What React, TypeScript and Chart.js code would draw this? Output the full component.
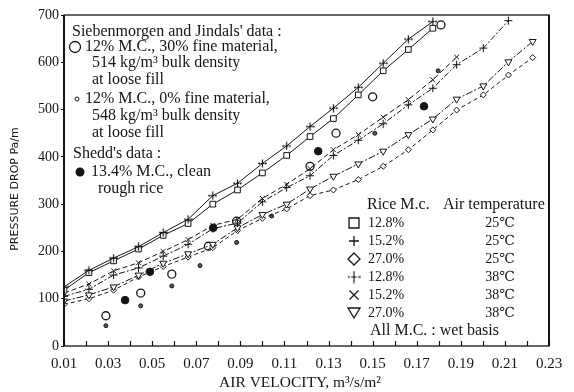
import React, { useEffect, useRef } from "react";
import { Chart, registerables } from "chart.js";

Chart.register(...registerables);

// ---------- data (air velocity m3/s/m2, pressure drop Pa/m) ----------
const VEL_A = [0.01, 0.0213, 0.0325, 0.0438, 0.055, 0.0663, 0.0775, 0.0887, 0.1, 0.111, 0.1216, 0.1322, 0.1435, 0.1548, 0.1662, 0.1773];
const VEL_B = [...VEL_A, 0.1881];
const VEL_C = [...VEL_B, 0.2002, 0.2116];
const VEL_D = [...VEL_C, 0.2226];

const MC128_T38 = [125, 160, 186, 210, 240, 268, 318, 344, 386, 423, 464, 503, 547, 598, 649, 686];
const MC128_T25 = [118, 155, 180, 205, 234, 259, 300, 330, 366, 403, 443, 481, 531, 582, 627, 672];
const MC152_T38 = [112, 131, 159, 176, 200, 225, 255, 268, 312, 342, 375, 415, 447, 484, 521, 563, 611];
const MC152_T25 = [105, 120, 150, 165, 190, 215, 248, 260, 305, 335, 360, 403, 435, 470, 510, 545, 595, 630, 688];
const MC270_T38 = [95, 108, 125, 150, 175, 195, 215, 250, 278, 300, 332, 359, 385, 412, 447, 480, 522, 550, 601, 644];
const MC270_T25 = [88, 100, 118, 146, 168, 188, 208, 244, 270, 290, 318, 330, 352, 380, 415, 457, 499, 531, 573, 610];

const SIEB30_VEL = [0.029, 0.0448, 0.0589, 0.0755, 0.0883, 0.1216, 0.1334, 0.150, 0.181];
const SIEB30_DP = [64, 112, 152, 211, 264, 380, 450, 527, 679];
const SIEB0_VEL = [0.029, 0.0448, 0.0589, 0.0717, 0.0883, 0.1042, 0.151, 0.1797];
const SIEB0_DP = [43, 85, 127, 170, 219, 275, 450, 582];
const SHEDD_VEL = [0.0377, 0.049, 0.0777, 0.1253, 0.1733];
const SHEDD_DP = [97, 157, 250, 412, 507];

const X_TICKS_LABELLED = ["0.01", "0.03", "0.05", "0.07", "0.09", "0.11", "0.13", "0.15", "0.17", "0.19", "0.21", "0.23"];

const LEGEND_MC = ["12.8%", "15.2%", "27.0%", "12.8%", "15.2%", "27.0%"];
const LEGEND_T = ["25℃", "25℃", "25℃", "38℃", "38℃", "38℃"];

const SERIF = "'Liberation Serif', 'DejaVu Serif', serif";
const INK = "#151515";

const pts = (xs: number[], ys: number[]) => xs.map((x, i) => ({ x, y: ys[i] }));

function makeDotCross(size: number): HTMLCanvasElement {
  const c = document.createElement("canvas");
  c.width = size;
  c.height = size;
  const g = c.getContext("2d")!;
  const m = size / 2;
  g.strokeStyle = INK;
  g.fillStyle = INK;
  g.lineWidth = 1.2;
  g.beginPath();
  g.moveTo(m, 0.5);
  g.lineTo(m, size - 0.5);
  g.moveTo(m - size * 0.22, m);
  g.lineTo(m + size * 0.22, m);
  g.stroke();
  g.beginPath();
  g.arc(1.2, m, 1, 0, Math.PI * 2);
  g.arc(size - 1.2, m, 1, 0, Math.PI * 2);
  g.fill();
  return c;
}

function drawMarker(ctx: CanvasRenderingContext2D, kind: string, x: number, y: number, dotCross: HTMLCanvasElement) {
  ctx.save();
  ctx.strokeStyle = INK;
  ctx.lineWidth = 1.3;
  ctx.beginPath();
  if (kind === "square") {
    ctx.rect(x - 5, y - 5, 10, 10);
  } else if (kind === "plus") {
    ctx.moveTo(x - 5, y); ctx.lineTo(x + 5, y);
    ctx.moveTo(x, y - 5); ctx.lineTo(x, y + 5);
  } else if (kind === "diamond") {
    ctx.moveTo(x, y - 6); ctx.lineTo(x + 6, y); ctx.lineTo(x, y + 6); ctx.lineTo(x - 6, y); ctx.closePath();
  } else if (kind === "cross") {
    ctx.moveTo(x - 4.5, y - 4.5); ctx.lineTo(x + 4.5, y + 4.5);
    ctx.moveTo(x + 4.5, y - 4.5); ctx.lineTo(x - 4.5, y + 4.5);
  } else if (kind === "tri") {
    ctx.moveTo(x - 6, y - 5); ctx.lineTo(x + 6, y - 5); ctx.lineTo(x, y + 5); ctx.closePath();
  }
  ctx.stroke();
  if (kind === "dotcross") ctx.drawImage(dotCross, x - dotCross.width / 2, y - dotCross.height / 2);
  ctx.restore();
}

export default function App() {
  const ref = useRef<HTMLCanvasElement>(null);

  useEffect(() => {
    const canvas = ref.current!;
    const dotCross = makeDotCross(9);
    const dotCrossBig = makeDotCross(13);

    const lineDs = (label: string, data: { x: number; y: number }[], style: any, radius: number, dash: number[], rotation = 0) => ({
      label,
      data,
      showLine: true,
      borderColor: INK,
      borderWidth: 1,
      borderDash: dash,
      pointStyle: style,
      pointRadius: radius,
      pointRotation: rotation,
      pointBorderColor: INK,
      pointBackgroundColor: "#fff",
      pointBorderWidth: 1,
      fill: false,
      tension: 0,
    });

    const overlay = {
      id: "overlay",
      afterDraw(chart: any) {
        const { ctx, chartArea: a } = chart;
        const xs = chart.scales.x;
        ctx.save();
        // frame
        ctx.strokeStyle = INK;
        ctx.lineWidth = 1.3;
        ctx.strokeRect(a.left, a.top, a.right - a.left, a.bottom - a.top);
        ctx.lineWidth = 2;
        ctx.beginPath();
        ctx.moveTo(a.left, a.top); ctx.lineTo(a.left, a.bottom);
        ctx.moveTo(a.right, a.top); ctx.lineTo(a.right, a.bottom);
        ctx.stroke();
        // inward x ticks
        ctx.lineWidth = 1.2;
        ctx.beginPath();
        for (let i = 0; i <= 22; i++) {
          const px = Math.round(xs.getPixelForValue(0.01 + i * 0.01)) + 0.5;
          ctx.moveTo(px, a.bottom);
          ctx.lineTo(px, a.bottom - 5);
        }
        ctx.stroke();

        ctx.fillStyle = INK;
        ctx.textBaseline = "middle";
        ctx.textAlign = "left";

        // top-left legend
        const L = a.left;
        ctx.font = `16px ${SERIF}`;
        ctx.fillText("Siebenmorgen and Jindals' data :", L + 8, 32);
        ctx.fillText("12% M.C., 30% fine material,", L + 21, 47);
        ctx.fillText("514 kg/m³ bulk density", L + 28, 63);
        ctx.fillText("at loose fill", L + 28, 80);
        ctx.fillText("12% M.C., 0% fine material,", L + 21, 99);
        ctx.fillText("548 kg/m³ bulk density", L + 28, 116);
        ctx.fillText("at loose fill", L + 28, 133);
        ctx.fillText("Shedd's data :", L + 9, 154);
        ctx.fillText("13.4% M.C., clean", L + 27, 172);
        ctx.fillText("rough rice", L + 34, 189);
        ctx.lineWidth = 1.3;
        ctx.beginPath(); ctx.arc(L + 11, 47, 5.5, 0, Math.PI * 2); ctx.stroke();
        ctx.beginPath(); ctx.arc(L + 13, 99, 2, 0, Math.PI * 2); ctx.lineWidth = 1; ctx.stroke();
        ctx.beginPath(); ctx.arc(L + 16, 172, 4.5, 0, Math.PI * 2); ctx.fill();

        // bottom-right legend
        ctx.font = `16px ${SERIF}`;
        ctx.fillText("Rice M.c.", 367, 205);
        ctx.fillText("Air temperature", 443, 205);
        const kinds = ["square", "plus", "diamond", "dotcross", "cross", "tri"];
        const rowsY = [223, 241, 259, 277, 295, 313];
        for (let i = 0; i < 6; i++) {
          ctx.font = `14px ${SERIF}`;
          ctx.textAlign = "left";
          ctx.fillText(LEGEND_MC[i], 368, rowsY[i]);
          ctx.textAlign = "center";
          ctx.fillText(LEGEND_T[i], 500, rowsY[i]);
          drawMarker(ctx, kinds[i], 354, rowsY[i], dotCrossBig);
        }
        ctx.textAlign = "left";
        ctx.font = `16px ${SERIF}`;
        ctx.fillText("All M.C. : wet basis", 370, 331);

        // y title
        ctx.save();
        ctx.translate(15, 189);
        ctx.rotate(-Math.PI / 2);
        ctx.textAlign = "center";
        ctx.font = `11px 'DejaVu Sans', sans-serif`;
        ctx.fillText("PRESSURE DROP Pa/m", 0, 0);
        ctx.restore();

        // x title
        ctx.textAlign = "center";
        ctx.font = `15.5px ${SERIF}`;
        ctx.fillText("AIR VELOCITY, m³/s/m²", 300, 383);
        ctx.restore();
      },
    };

    const chart = new Chart(canvas, {
      type: "scatter",
      data: {
        datasets: [
          lineDs("12.8% 38℃", pts(VEL_A, MC128_T38), dotCross, 4.5, []),
          lineDs("12.8% 25℃", pts(VEL_A, MC128_T25), "rect", 4, []),
          lineDs("15.2% 38℃", pts(VEL_B, MC152_T38), "crossRot", 3.5, [5, 3]),
          lineDs("15.2% 25℃", pts(VEL_C, MC152_T25), "cross", 4, [6, 2, 2, 2]),
          lineDs("27.0% 38℃", pts(VEL_D, MC270_T38), "triangle", 4, [7, 2, 2, 2], 180),
          lineDs("27.0% 25℃", pts(VEL_D, MC270_T25), "rectRot", 3, [4, 3]),
          {
            label: "Siebenmorgen 30% fine",
            data: pts(SIEB30_VEL, SIEB30_DP),
            pointStyle: "circle",
            pointRadius: 4,
            pointBorderColor: INK,
            pointBackgroundColor: "#fff",
            pointBorderWidth: 1.3,
          },
          {
            label: "Siebenmorgen 0% fine",
            data: pts(SIEB0_VEL, SIEB0_DP),
            pointStyle: "circle",
            pointRadius: 2,
            pointBorderColor: INK,
            pointBackgroundColor: "#555",
            pointBorderWidth: 1,
          },
          {
            label: "Shedd",
            data: pts(SHEDD_VEL, SHEDD_DP),
            pointStyle: "circle",
            pointRadius: 3.8,
            pointBorderColor: INK,
            pointBackgroundColor: INK,
            pointBorderWidth: 1,
          },
        ],
      } as any,
      options: {
        responsive: false,
        animation: false,
        layout: { padding: { top: 15, right: 25, left: 0, bottom: 0 } },
        plugins: { legend: { display: false }, tooltip: { enabled: false } },
        scales: {
          x: {
            type: "linear",
            min: 0.01,
            max: 0.23,
            afterFit: (s: any) => { s.height = 46; },
            afterBuildTicks: (s: any) => {
              s.ticks = Array.from({ length: 23 }, (_, i) => ({ value: 0.01 + i * 0.01 }));
            },
            ticks: {
              autoSkip: false,
              maxRotation: 0,
              padding: 9,
              color: INK,
              font: { family: SERIF, size: 15 },
              callback: (_v: any, i: number) => (i % 2 === 0 ? X_TICKS_LABELLED[i / 2] : ""),
            },
            grid: { drawOnChartArea: false, drawTicks: false },
            border: { display: false },
          },
          y: {
            min: 0,
            max: 700,
            afterFit: (s: any) => { s.width = 64; },
            ticks: {
              stepSize: 100,
              padding: 2,
              color: INK,
              font: { family: SERIF, size: 14 },
            },
            grid: { drawOnChartArea: false, drawTicks: true, tickLength: 3, color: INK },
            border: { display: false },
          },
        },
      } as any,
      plugins: [overlay],
    });
    return () => chart.destroy();
  }, []);

  return (
    <div style={{ position: "absolute", left: 0, top: 0, width: 574, height: 392, background: "#fff" }}>
      <canvas ref={ref} width={574} height={392} style={{ display: "block" }} />
    </div>
  );
}
